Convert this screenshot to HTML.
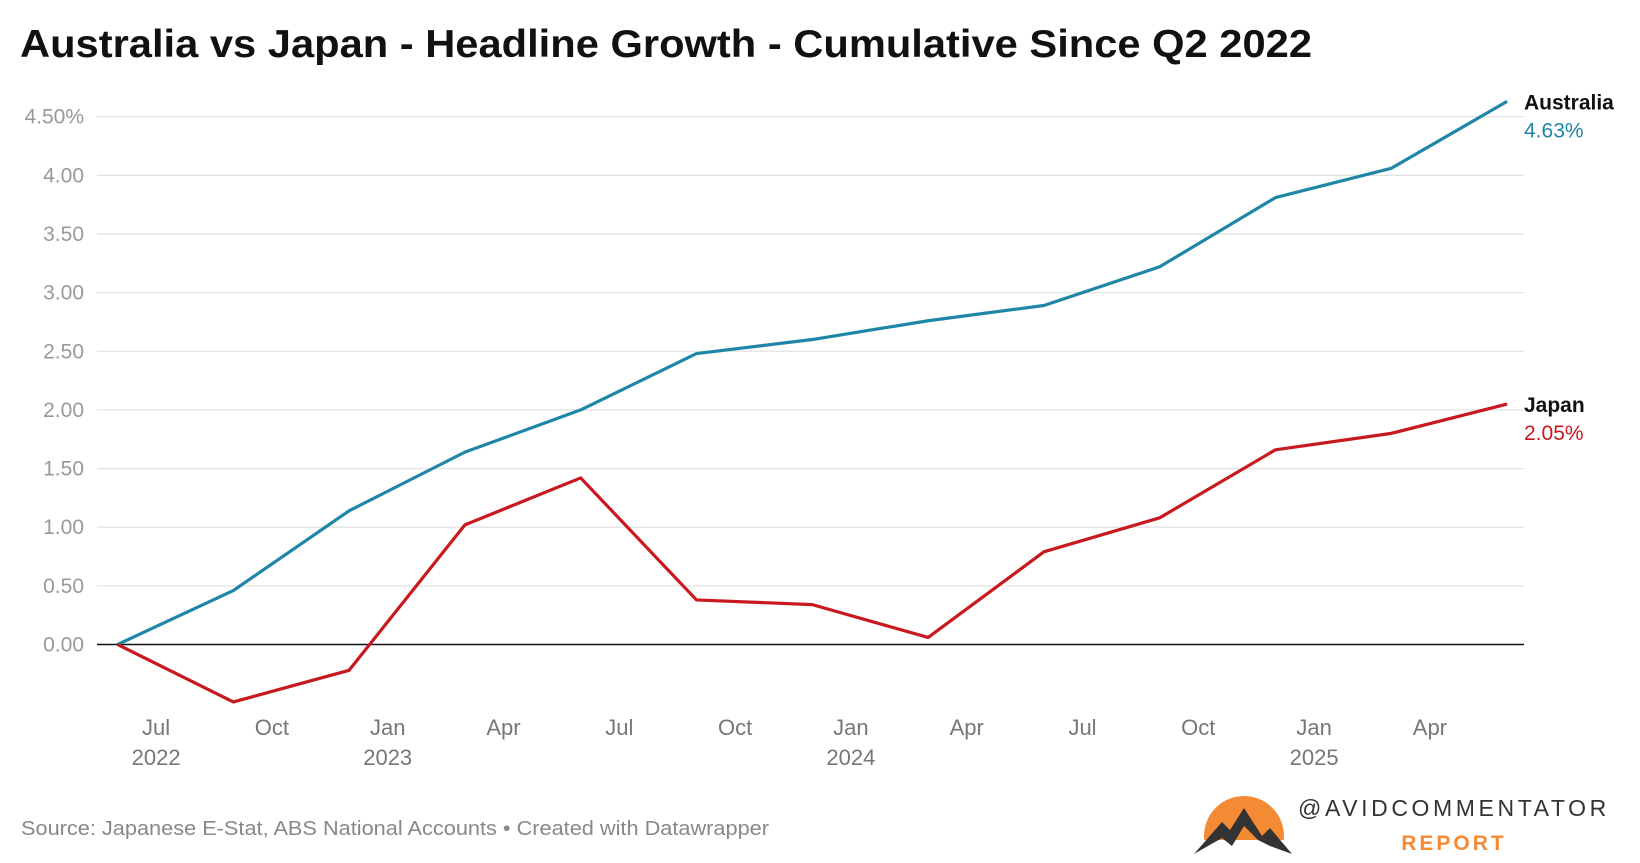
<!DOCTYPE html>
<html><head><meta charset="utf-8"><style>
body{margin:0;background:#fff;width:1640px;height:858px;overflow:hidden;font-family:"Liberation Sans",sans-serif}
</style></head><body>
<svg width="1640" height="858" xmlns="http://www.w3.org/2000/svg">
<text x="20" y="57" font-size="39" font-weight="bold" fill="#111" textLength="1292" lengthAdjust="spacingAndGlyphs">Australia vs Japan - Headline Growth - Cumulative Since Q2 2022</text>
<g id="grid"></g><g id="lines"></g><g id="labels"></g>
<text x="21" y="835" font-size="20" fill="#888" textLength="748" lengthAdjust="spacingAndGlyphs">Source: Japanese E-Stat, ABS National Accounts • Created with Datawrapper</text>
<g>
<clipPath id="c"><rect x="1190" y="780" width="120" height="60"/></clipPath>
<circle cx="1244" cy="836" r="40" fill="#f58a35" clip-path="url(#c)"/>
<polygon points="1194,854 1222,822 1230,830 1244,808 1262,836 1270,828 1292,854 1270,846 1258,840 1244,826 1232,846 1222,838" fill="#333"/>
<text x="1298" y="816" font-size="23" fill="#333" letter-spacing="3.6">@AVIDCOMMENTATOR</text>
<text x="1454" y="850" font-size="21" font-weight="bold" fill="#f58a35" text-anchor="middle" letter-spacing="3">REPORT</text>
</g>
</svg>
<script>
const yTicks=[0,0.5,1,1.5,2,2.5,3,3.5,4,4.5];
const australia=[0,0.46,1.14,1.64,2.00,2.48,2.60,2.76,2.89,3.22,3.81,4.06,4.63];
const japan=[0,-0.49,-0.22,1.02,1.42,0.38,0.34,0.06,0.79,1.08,1.66,1.80,2.05];
const xTickMonths=["Jul","Oct","Jan","Apr","Jul","Oct","Jan","Apr","Jul","Oct","Jan","Apr"];
const xTickYears=["2022","","2023","","","","2024","","","","2025",""];
const NS="http://www.w3.org/2000/svg";
const X=i=>117.5+i*115.8, Y=v=>644.5-v*117.3;
function mk(t,a,p){const e=document.createElementNS(NS,t);for(const k in a)e.setAttribute(k,a[k]);p.appendChild(e);return e;}
const grid=document.getElementById('grid'),lines=document.getElementById('lines'),labels=document.getElementById('labels');
yTicks.forEach((v,i)=>{
 const l=mk('line',{x1:97,x2:1524,y1:Y(v),y2:Y(v),stroke:v===0?'#111':'#e3e3e3','stroke-width':v===0?1.6:1.3},grid);
 
 
 const t=mk('text',{x:84,y:Y(v)+7,'text-anchor':'end','font-size':21,fill:'#999'},grid);
 t.textContent=v.toFixed(2)+(i===yTicks.length-1?'%':'');
 
 
});
xTickMonths.forEach((m,i)=>{
 const x=X(i+1/3);
 const t=mk('text',{x:x,y:735,'text-anchor':'middle','font-size':22,fill:'#777'},labels);
 t.textContent=m;
 
 
 if(xTickYears[i]){const y=mk('text',{x:x,y:765,'text-anchor':'middle','font-size':22,fill:'#777'},labels);
 y.textContent=xTickYears[i];
 
 }
});
function series(d,c,name,label){
 const p=mk('polyline',{points:d.map((v,i)=>X(i)+','+Y(v)).join(' '),fill:'none',stroke:c,'stroke-width':3.2,'stroke-linejoin':'round'},lines);
 
 
 const v=d[d.length-1],y=Y(v);
 const a=mk('text',{x:1524,y:y+8,'font-size':21,'font-weight':'bold',fill:'#111'},labels);a.textContent=label;
 
 
 const b=mk('text',{x:1524,y:y+36,'font-size':21,fill:c},labels);b.textContent=v.toFixed(2)+'%';
 
 
}
series(australia,'#1f86a8','australia','Australia');
series(japan,'#c8191e','japan','Japan');
</script>
</body></html>
